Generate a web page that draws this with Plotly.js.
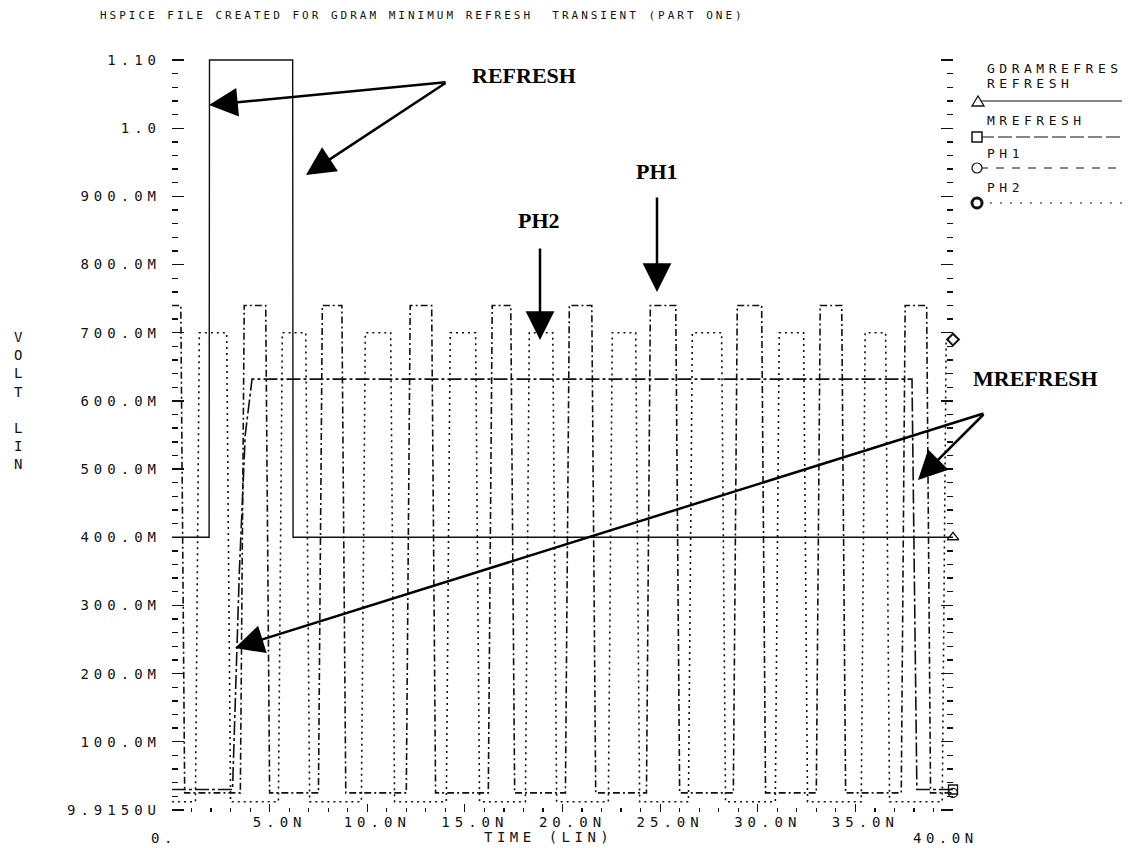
<!DOCTYPE html>
<html>
<head>
<meta charset="utf-8">
<script src="https://cdn.plot.ly/plotly-3.0.1.min.js"></script>
<style>
  body { margin: 0; background: #fff; }
  svg .xtick text, svg .ytick text { letter-spacing: 5px; }
  svg text.gtitle { letter-spacing: 3px; }
  svg text.annotation-text[style*="Mono"] { letter-spacing: 4.5px; }
</style>
</head>
<body>
<div id="chart" style="width:1138px;height:848px;"></div>
<script>
// ---- data (time in ns, voltage in V) ----
const timeRefresh = [0, 1.9, 1.92, 6.18, 6.2, 40];
const voltRefresh = [0.40, 0.40, 1.10, 1.10, 0.40, 0.40];

const timeMrefresh = [0, 3.1, 3.45, 3.75, 4.1, 37.9, 38.15, 40];
const voltMrefresh = [0.03, 0.03, 0.35, 0.55, 0.632, 0.632, 0.03, 0.03];

const timePh1 = [0, 0.45, 0.65,
  3.5, 3.7, 4.8, 5.0,
  7.5, 7.7, 8.7, 8.9,
  12.0, 12.2, 13.3, 13.5,
  16.2, 16.4, 17.35, 17.55,
  20.15, 20.35, 21.5, 21.7,
  24.3, 24.5, 25.8, 26.0,
  28.75, 28.95, 30.2, 30.4,
  33.0, 33.2, 34.3, 34.5,
  37.35, 37.55, 38.65, 38.85,
  40];
const voltPh1 = [0.74, 0.74, 0.025,
  0.025, 0.74, 0.74, 0.025,
  0.025, 0.74, 0.74, 0.025,
  0.025, 0.74, 0.74, 0.025,
  0.025, 0.74, 0.74, 0.025,
  0.025, 0.74, 0.74, 0.025,
  0.025, 0.74, 0.74, 0.025,
  0.025, 0.74, 0.74, 0.025,
  0.025, 0.74, 0.74, 0.025,
  0.025, 0.74, 0.74, 0.025,
  0.025];

const timePh2 = [0,
  1.2, 1.4, 2.8, 3.0,
  5.45, 5.65, 6.85, 7.05,
  9.7, 9.9, 11.2, 11.4,
  14.05, 14.25, 15.55, 15.75,
  18.1, 18.3, 19.5, 19.7,
  22.35, 22.55, 23.75, 23.95,
  26.45, 26.65, 28.15, 28.35,
  30.9, 31.1, 32.35, 32.55,
  35.3, 35.5, 36.55, 36.75,
  39.45, 39.65, 40];
const voltPh2 = [0.012,
  0.012, 0.70, 0.70, 0.012,
  0.012, 0.70, 0.70, 0.012,
  0.012, 0.70, 0.70, 0.012,
  0.012, 0.70, 0.70, 0.012,
  0.012, 0.70, 0.70, 0.012,
  0.012, 0.70, 0.70, 0.012,
  0.012, 0.70, 0.70, 0.012,
  0.012, 0.70, 0.70, 0.012,
  0.012, 0.70, 0.70, 0.012,
  0.012, 0.69, 0.69];

const yTickVals = [0, 0.1, 0.2, 0.3, 0.4, 0.5, 0.6, 0.7, 0.8, 0.9, 1.0, 1.1];
const yTickText = ['9.9150U', '100.0M', '200.0M', '300.0M', '400.0M', '500.0M',
                   '600.0M', '700.0M', '800.0M', '900.0M', '1.0', '1.10'];
const xTickVals = [5, 10, 15, 20, 25, 30, 35];
const xTickText = ['5.0N', '10.0N', '15.0N', '20.0N', '25.0N', '30.0N', '35.0N'];
const xEndLabels = ['0.', '40.0N'];
const xEndVals = [0, 40];

const seriesNames = ['REFRESH', 'MREFRESH', 'PH1', 'PH2'];

// ---- styling ----
const MONO = '"DejaVu Sans Mono", monospace';
const SERIF = '"Liberation Serif", "Times New Roman", serif';
const INK = '#111';

function last(a) { return a[a.length - 1]; }

const traces = [
  { x: timeRefresh, y: voltRefresh, mode: 'lines', name: seriesNames[0],
    line: { color: INK, width: 1.4 } },
  { x: timeMrefresh, y: voltMrefresh, mode: 'lines', name: seriesNames[1],
    line: { color: INK, width: 1.6, dash: '14px,3px,3px,3px' } },
  { x: timePh1, y: voltPh1, mode: 'lines', name: seriesNames[2],
    line: { color: INK, width: 1.6, dash: '7px,3px,2px,3px' } },
  { x: timePh2, y: voltPh2, mode: 'lines', name: seriesNames[3],
    line: { color: INK, width: 1.6, dash: '2px,4px' } },
  // end-of-trace markers
  { x: [last(timeRefresh)], y: [last(voltRefresh)], mode: 'markers', cliponaxis: false,
    marker: { symbol: 'triangle-up-open', size: 10, color: INK, line: { width: 1.3 } } },
  { x: [last(timeMrefresh)], y: [last(voltMrefresh)], mode: 'markers', cliponaxis: false,
    marker: { symbol: 'square-open', size: 9, color: INK, line: { width: 1.3 } } },
  { x: [last(timePh1)], y: [last(voltPh1)], mode: 'markers', cliponaxis: false,
    marker: { symbol: 'circle-open', size: 9, color: INK, line: { width: 1.3 } } },
  { x: [last(timePh2)], y: [last(voltPh2)], mode: 'markers', cliponaxis: false,
    marker: { symbol: 'diamond-open', size: 9, color: INK, line: { width: 2 } } }
];

// pixel helpers for paper coordinates (plot area: x 172..953, y 58..812)
const PL = 172, PW = 781, PT = 58, PH = 754;
const px = v => (v - PL) / PW;
const py = v => (PT + PH - v) / PH;

const annotations = [];
function note(xp, yp, text, font, xanchor) {
  annotations.push({ x: px(xp), y: py(yp), xref: 'paper', yref: 'paper', text: text,
    showarrow: false, xanchor: xanchor || 'center', yanchor: 'middle', font: font, align: 'center' });
}
const monoFont = s => ({ family: MONO, size: s, color: INK });

// x end tick labels (staggered lower row)
xEndVals.forEach((v, i) => {
  annotations.push({ x: v, xref: 'x', y: py(838), yref: 'paper', text: xEndLabels[i],
    showarrow: false, xanchor: 'center', yanchor: 'middle', xshift: i === 0 ? -8 : -8,
    font: monoFont(14) });
});
// axis titles
note(548, 837, 'TIME (LIN)', monoFont(14));
note(20, 400, 'V<br>O<br>L<br>T<br> <br>L<br>I<br>N', monoFont(14));

// callouts
const callFont = { family: SERIF, size: 22, color: '#000', weight: 'bold' };
note(524, 76, '<b>REFRESH</b>', callFont);
note(539, 221, '<b>PH2</b>', callFont);
note(657, 172, '<b>PH1</b>', callFont);
note(1035, 378, '<b>MREFRESH</b>', callFont);

function arrow(tipX, tipY, tailX, tailY) {
  annotations.push({ x: px(tipX), y: py(tipY), xref: 'paper', yref: 'paper', text: '',
    showarrow: true, arrowhead: 2, arrowsize: 2.3, arrowwidth: 2.5, arrowcolor: '#000',
    ax: tailX - tipX, ay: tailY - tipY, standoff: 0 });
}
arrow(209, 105, 447, 82);
arrow(306, 175, 447, 82);
arrow(540, 340, 540, 247);
arrow(657, 292, 657, 196);
arrow(235, 648, 985, 413);
arrow(918, 480, 985, 413);

// custom legend (right margin)
const legendItems = [
  { ty: 83, ly: 101, dash: 'solid' },
  { ty: 120, ly: 137, dash: '14px,4px' },
  { ty: 153, ly: 168, dash: '8px,8px' },
  { ty: 187, ly: 203, dash: '2px,8px' }
];
note(985, 68, 'GDRAMREFRES', monoFont(13), 'left');
const shapes = [];
legendItems.forEach((it, i) => {
  note(985, it.ty, seriesNames[i], monoFont(13), 'left');
  shapes.push({ type: 'line', xref: 'paper', yref: 'paper', x0: px(980), x1: px(1122),
    y0: py(it.ly), y1: py(it.ly), line: { color: INK, width: 1.2, dash: it.dash } });
});
// legend marker glyphs
shapes.push({ type: 'path', xref: 'paper', yref: 'paper', xsizemode: 'pixel', ysizemode: 'pixel',
  xanchor: px(978), yanchor: py(101), path: 'M -6 -5 L 6 -5 L 0 5 Z',
  line: { color: INK, width: 1.3 }, fillcolor: '#fff' });
shapes.push({ type: 'rect', xref: 'paper', yref: 'paper', xsizemode: 'pixel', ysizemode: 'pixel',
  xanchor: px(977), yanchor: py(137), x0: -5, x1: 5, y0: -5, y1: 5,
  line: { color: INK, width: 1.5 }, fillcolor: '#fff' });
shapes.push({ type: 'circle', xref: 'paper', yref: 'paper', xsizemode: 'pixel', ysizemode: 'pixel',
  xanchor: px(977), yanchor: py(168), x0: -5, x1: 5, y0: -5, y1: 5,
  line: { color: INK, width: 1.2 }, fillcolor: '#fff' });
shapes.push({ type: 'circle', xref: 'paper', yref: 'paper', xsizemode: 'pixel', ysizemode: 'pixel',
  xanchor: px(977), yanchor: py(203), x0: -5, x1: 5, y0: -5, y1: 5,
  line: { color: INK, width: 3 }, fillcolor: '#fff' });

const layout = {
  width: 1138, height: 848,
  margin: { l: PL, r: 1138 - PL - PW, t: PT, b: 848 - PT - PH },
  paper_bgcolor: '#fff', plot_bgcolor: '#fff',
  showlegend: false,
  title: { text: 'HSPICE FILE CREATED FOR GDRAM MINIMUM REFRESH  TRANSIENT (PART ONE)',
    x: 100 / 1138, xref: 'container', xanchor: 'left', y: 1 - 15 / 848, yref: 'container',
    yanchor: 'middle', font: { family: MONO, size: 11, color: INK } },
  xaxis: {
    range: [0, 40], showgrid: false, zeroline: false, showline: false,
    tickvals: xTickVals, ticktext: xTickText, ticks: 'inside', ticklen: 8, tickwidth: 1.2,
    tickcolor: INK, ticklabelshift: 10, ticklabelstandoff: 0,
    minor: { dtick: 1, ticks: 'inside', ticklen: 4, tickcolor: INK },
    tickfont: { family: MONO, size: 14, color: INK }
  },
  yaxis: {
    range: [-0.003, 1.103], showgrid: false, zeroline: false, showline: false,
    tickvals: yTickVals, ticktext: yTickText, ticks: 'inside', ticklen: 12, tickwidth: 1.4,
    tickcolor: INK, mirror: 'ticks', ticklabelstandoff: 10,
    minor: { dtick: 0.02, ticks: 'inside', ticklen: 6, tickcolor: INK },
    tickfont: { family: MONO, size: 14, color: INK }
  },
  annotations: annotations,
  shapes: shapes
};

Plotly.newPlot('chart', traces, layout, { staticPlot: true, displayModeBar: false });
</script>
</body>
</html>
